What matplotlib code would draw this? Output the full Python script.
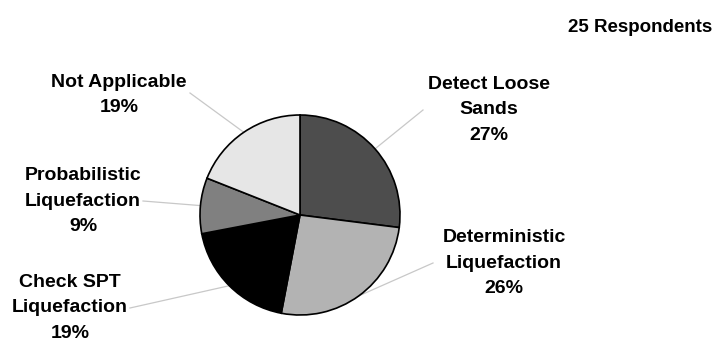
import numpy as np
import matplotlib.pyplot as plt

labels = ['Detect Loose\nSands', 'Deterministic\nLiquefaction', 'Check SPT\nLiquefaction',
          'Probabilistic\nLiquefaction', 'Not Applicable']
pct = [27, 26, 19, 9, 19]
colors = ['#4d4d4d', '#b3b3b3', '#000000', '#808080', '#e6e6e6']

# label centres and where each leader line stops (pixel coords, y down)
label_xy = [(489, 110), (504, 263), (70, 308), (83, 201), (119, 95)]
line_end = [(423, 110), (433, 263), (130, 308), (143, 201), (190, 93)]

plt.rcParams['font.family'] = ['Liberation Sans', 'DejaVu Sans']

fig = plt.figure(figsize=(7.18, 3.45), dpi=100)
ax = fig.add_axes([0, 0, 1, 1])

cx, cy, r = 300, 215, 100
wedges, _ = ax.pie(pct, colors=colors, center=(cx, cy), radius=r, startangle=-90,
                   counterclock=True, wedgeprops=dict(edgecolor='black', linewidth=1.2))
ax.set_xlim(0, 718)
ax.set_ylim(345, 0)
ax.set_aspect('equal')
ax.axis('off')

for w, lab, p, (lx, ly), (ex, ey) in zip(wedges, labels, pct, label_xy, line_end):
    mid = np.deg2rad((w.theta1 + w.theta2) / 2)
    sx, sy = cx + r * np.cos(mid), cy + r * np.sin(mid)
    ax.plot([sx, ex], [sy, ey], color='#c8c8c8', lw=0.9, zorder=0)
    ax.text(lx, ly, f'{lab}\n{p}%', ha='center', va='center', fontsize=14,
            fontweight='bold', linespacing=1.65)

ax.text(640, 28, '25 Respondents', ha='center', va='center', fontsize=13.5, fontweight='bold')

fig.savefig('out.png', dpi=100)
